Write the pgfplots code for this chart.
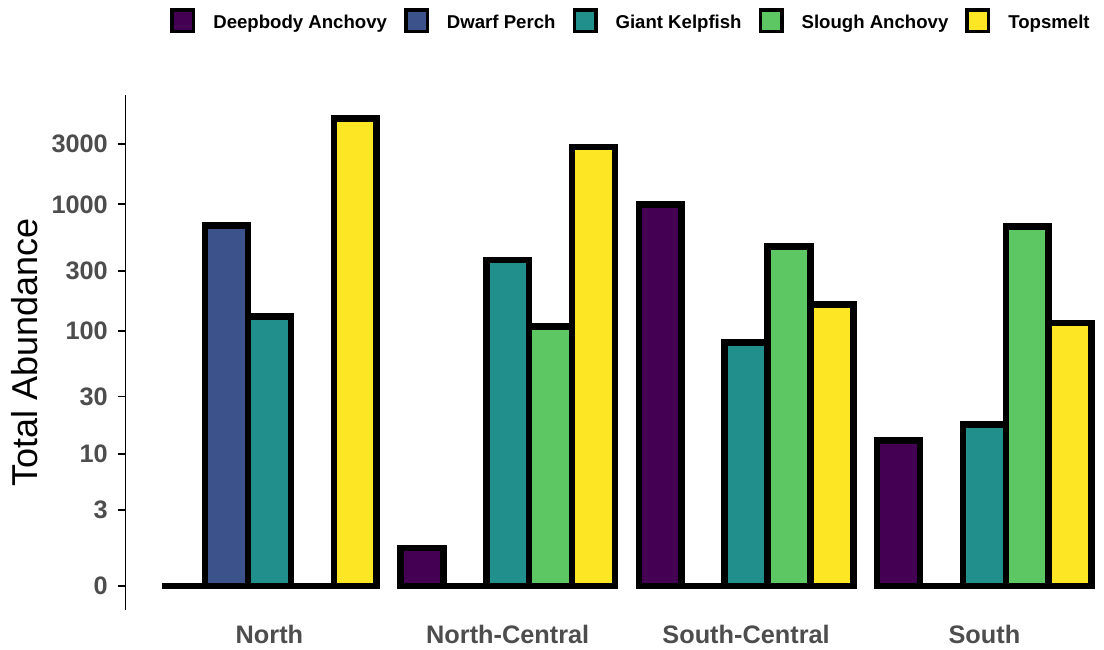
\documentclass[border=0pt]{standalone}
\usepackage{fontspec}
\setmainfont{Liberation Sans}
\usepackage{pgfplots}
\pgfplotsset{compat=1.18}

% viridis palette, five levels
\definecolor{vir1}{HTML}{440154}
\definecolor{vir2}{HTML}{3B528B}
\definecolor{vir3}{HTML}{21908C}
\definecolor{vir4}{HTML}{5DC863}
\definecolor{vir5}{HTML}{FDE725}
\definecolor{tickgray}{HTML}{4D4D4D}

\begin{document}
\begin{tikzpicture}[x=1pt,y=1pt]
\useasboundingbox (0,0) rectangle (1104,649);
\begin{axis}[
  at={(125.5pt,39pt)}, anchor=south west,
  scale only axis,
  width=978.5pt, height=515pt,
  clip=false,
  % log(1 + y) scale for the abundances
  y coord trafo/.code={\pgfmathparse{ln(#1+1)}},
  y coord inv trafo/.code={\pgfmathparse{exp(#1)-1}},
  xmin=-0.604, xmax=3.502,
  ymin=-0.3495, ymax=7236,
  ybar=0pt, bar width=42.9pt,
  axis lines*=left,
  x axis line style={draw=none},
  y axis line style={black, line width=1.8pt},
  xtick={0,1,2,3},
  xticklabels={North, North-Central, South-Central, South},
  xtick style={draw=none},
  ytick={0,3,10,30,100,300,1000,3000},
  yticklabels={0,3,10,30,100,300,1000,3000},
  ytick style={black, line width=1.8pt},
  tick align=outside,
  major tick length=7.5pt,
  ticklabel style={font=\fontsize{25.3}{29}\selectfont\bfseries, text=tickgray},
  yticklabel style={anchor=east, inner sep=0pt, xshift=-10pt},
  xticklabel style={anchor=base, inner sep=0pt, yshift=-26pt},
  ylabel={Total Abundance},
  every axis y label/.style={at={(axis description cs:-0.0899,0.5)}, rotate=90, anchor=base,
    font=\fontsize{36}{40}\selectfont},
  every axis plot/.append style={draw=black, line width=6.5pt},
  legend columns=5,
  legend style={at={(axis description cs:0.5156,1.1441)}, anchor=center,
    draw=none, fill=none, inner sep=0pt,
    font=\fontsize{18.6}{21}\selectfont\bfseries,
    nodes={inner sep=0pt, text height=13.5pt, text depth=3.9pt},
    /tikz/every odd column/.append style={column sep=18pt},
    /tikz/every even column/.append style={column sep=17pt}},
  legend image code/.code={\draw[#1, line width=3.5pt] (0pt,-8.05pt) rectangle (21.5pt,13.45pt);},
]
\addplot[fill=vir1] coordinates {(0,0) (1,1) (2,1000) (3,13)};
\addplot[fill=vir2] coordinates {(0,680) (1,0) (2,0) (3,0)};
\addplot[fill=vir3] coordinates {(0,131) (1,364) (2,81) (3,17.6)};
\addplot[fill=vir4] coordinates {(0,0) (1,109) (2,464) (3,667)};
\addplot[fill=vir5] coordinates {(0,4730) (1,2830) (2,163) (3,116)};
\legend{Deepbody Anchovy, Dwarf Perch, Giant Kelpfish, Slough Anchovy, Topsmelt}
\end{axis}
\end{tikzpicture}
\end{document}
